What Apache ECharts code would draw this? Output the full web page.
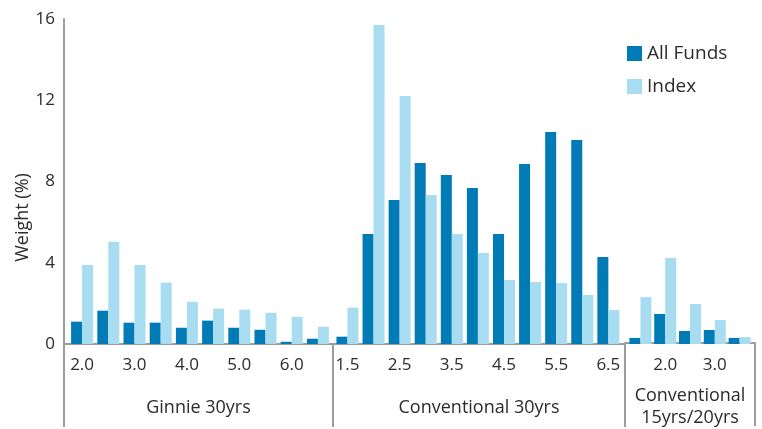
<!DOCTYPE html>
<html>
<head>
<meta charset="utf-8">
<script src="https://cdn.jsdelivr.net/npm/echarts@6/dist/echarts.min.js"></script>
<style>
html,body{margin:0;padding:0;background:#fff;}
#chart{width:762px;height:429px;}
</style>
</head>
<body>
<div id="chart"></div>
<script>
// ---- Data ----
const ginnieCoupons = ['2.0','2.5','3.0','3.5','4.0','4.5','5.0','5.5','6.0','6.5'];
const conv30Coupons = ['1.5','2.0','2.5','3.0','3.5','4.0','4.5','5.0','5.5','6.0','6.5'];
const conv15Coupons = ['1.5','2.0','2.5','3.0','3.5'];
const groupNames = ['Ginnie 30yrs','Conventional 30yrs','Conventional\n15yrs/20yrs'];
const seriesNames = ['All Funds','Index'];

const ginnieAllFunds = [1.10,1.64,1.05,1.05,0.80,1.15,0.80,0.70,0.11,0.26];
const ginnieIndex    = [3.89,5.04,3.89,3.02,2.08,1.74,1.69,1.54,1.34,0.85];
const conv30AllFunds = [0.36,5.42,7.09,8.91,8.32,7.68,5.42,8.86,10.44,10.04,4.28];
const conv30Index    = [1.79,15.71,12.21,7.34,5.42,4.48,3.15,3.05,3.00,2.41,1.67];
const conv15AllFunds = [0.30,1.48,0.64,0.69,0.30];
const conv15Index    = [2.31,4.23,1.97,1.18,0.34];

const yMin = 0, yMax = 16, yStep = 4;

// ---- Style ----
const DARK = '#007BB6';
const LIGHT = '#A8DDF1';
const TXT = '#2b2b2b';
const AX = '#9c9c9c';
const FONT = 'Open Sans';

const chart = echarts.init(document.getElementById('chart'), null, {renderer:'canvas'});

const TOP = 19, H = 325;
// bar grids (0-2) and frame/group grids (3-5)
const grids = [
  {left:69,  top:TOP, width:262, height:H},
  {left:334.4, top:TOP, width:287, height:H},
  {left:628, top:TOP, width:124, height:H},
  {left:64,  top:TOP, width:269, height:H},
  {left:333, top:TOP, width:292, height:H},
  {left:625, top:TOP, width:130, height:H}
];

function couponAxis(idx, data, interval){
  return {
    type:'category', gridIndex:idx, data:data, boundaryGap:true,
    axisLine:{show:false}, axisTick:{show:false}, splitLine:{show:false},
    axisLabel:{interval:interval, margin:13, fontSize:17, color:TXT, fontFamily:FONT}
  };
}
function groupAxis(idx, name){
  return {
    type:'category', gridIndex:idx, data:[name], boundaryGap:true,
    axisLine:{show:true, lineStyle:{color:AX, width:2}},
    axisTick:{show:true, length:83, lineStyle:{color:AX, width:2}},
    axisLabel:{interval:0, margin:64, verticalAlign:'middle', lineHeight:22,
      fontSize:18, color:TXT, fontFamily:FONT}
  };
}
function hiddenY(idx){
  return {type:'value', gridIndex:idx, min:yMin, max:yMax, interval:yStep,
    show:false, splitLine:{show:false}};
}

const xAxes = [
  couponAxis(0, ginnieCoupons, 1),
  couponAxis(1, conv30Coupons, 1),
  couponAxis(2, conv15Coupons, function(i){ return i % 2 === 1; }),
  groupAxis(3, groupNames[0]),
  groupAxis(4, groupNames[1]),
  groupAxis(5, groupNames[2])
];

const yAxes = [
  hiddenY(0), hiddenY(1), hiddenY(2),
  {type:'value', gridIndex:3, min:yMin, max:yMax, interval:yStep,
    axisLine:{show:true, lineStyle:{color:AX, width:2}},
    axisTick:{show:false}, splitLine:{show:false},
    axisLabel:{margin:9, fontSize:17, color:TXT, fontFamily:FONT},
    name:'Weight (%)', nameLocation:'middle', nameGap:30,
    nameTextStyle:{fontSize:18, color:TXT, fontFamily:FONT, padding:[0,72,0,0]}},
  hiddenY(4), hiddenY(5)
];

function bar(name, color, gi, data){
  return {name:name, type:'bar', xAxisIndex:gi, yAxisIndex:gi, data:data,
    barWidth:11, barGap:'0%', itemStyle:{color:color}, animation:false};
}

const series = [
  bar(seriesNames[0], DARK, 0, ginnieAllFunds),
  bar(seriesNames[1], LIGHT, 0, ginnieIndex),
  bar(seriesNames[0], DARK, 1, conv30AllFunds),
  bar(seriesNames[1], LIGHT, 1, conv30Index),
  bar(seriesNames[0], DARK, 2, conv15AllFunds),
  bar(seriesNames[1], LIGHT, 2, conv15Index)
];

chart.setOption({
  animation:false,
  backgroundColor:'#fff',
  textStyle:{fontFamily:FONT},
  legend:{
    data:seriesNames, orient:'vertical', left:627, top:44, padding:0,
    icon:'rect', itemWidth:15, itemHeight:15, itemGap:14,
    textStyle:{fontSize:19, color:TXT, fontFamily:FONT}
  },
  grid:grids,
  xAxis:xAxes,
  yAxis:yAxes,
  series:series
});
</script>
</body>
</html>
